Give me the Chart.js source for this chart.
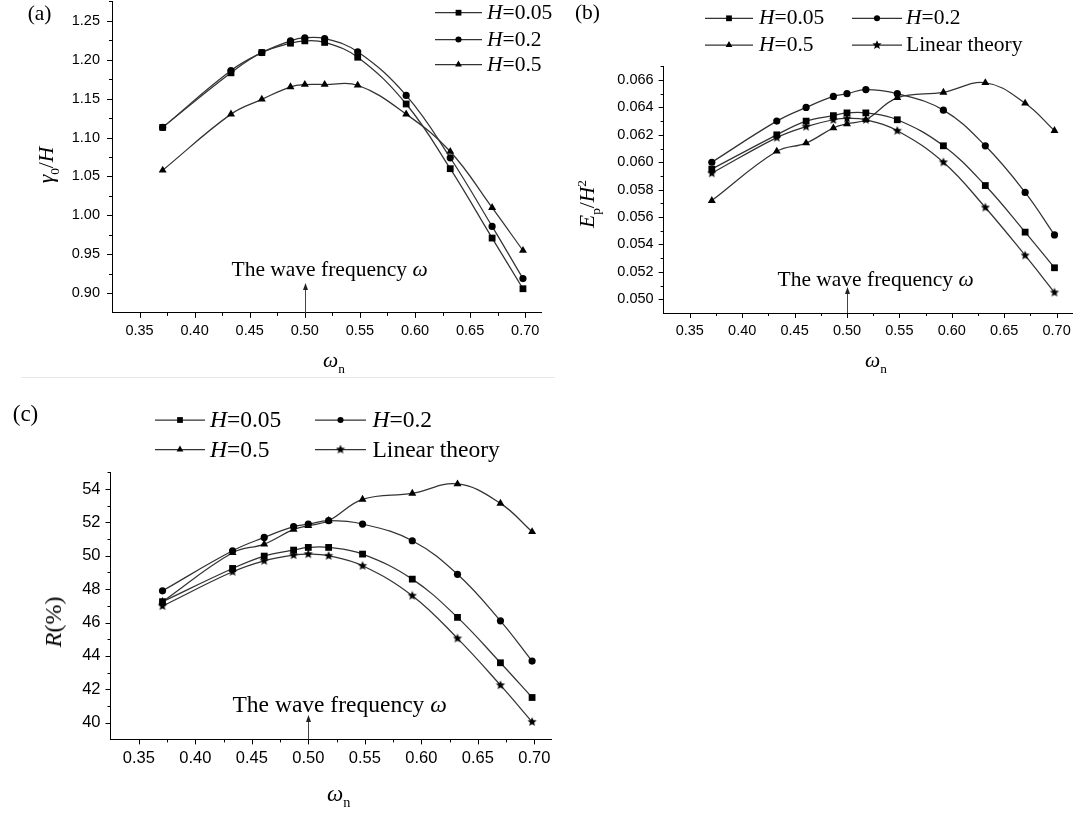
<!DOCTYPE html>
<html>
<head>
<meta charset="utf-8">
<script src="https://cdn.jsdelivr.net/npm/chart.js@4.4.1/dist/chart.umd.min.js"></script>
<style>
  html, body { margin: 0; padding: 0; background: #fff; }
  #page { position: relative; width: 1080px; height: 814px; overflow: hidden; background: #fff; }
  #page canvas { position: absolute; }
  .t { position: absolute; font-family: "Liberation Serif", "Times New Roman", serif; color: #000; line-height: 1; white-space: nowrap; }
  .t sub, .t sup { font-size: 0.62em; line-height: 0; position: relative; vertical-align: baseline; font-style: normal; }
  .t sub { top: 0.42em; }
  .t sup { top: -0.6em; }
  .ctr { transform: translate(-50%, -50%); }
  .rot { transform: translate(-50%, -50%) rotate(-90deg); }
  .mid { transform: translateY(-50%); }
  .sep { position: absolute; left: 21px; top: 377px; width: 534px; height: 1px; background: #e8e8e8; }
</style>
</head>
<body>
<div id="page">
  <canvas id="chartA"></canvas>
  <canvas id="chartB"></canvas>
  <canvas id="chartC"></canvas>
  <div class="sep"></div>

  <!-- panel letters -->
  <div class="t ctr" style="left:39.6px; top:14px; font-size:21.5px;">(a)</div>
  <div class="t ctr" style="left:587.5px; top:12.5px; font-size:21.5px;">(b)</div>
  <div class="t ctr" style="left:25.5px; top:413px; font-size:23px;">(c)</div>

  <!-- axis titles -->
  <div class="t rot" style="left:47px; top:165px; font-size:21.5px;"><i>γ</i><sub>0</sub>/<i>H</i></div>
  <div class="t mid" style="left:323px; top:361px; font-size:21.5px;"><i>ω</i><sub>n</sub></div>
  <div class="t rot" style="left:588px; top:204px; font-size:21.5px;"><i>E</i><sub>p</sub>/<i>H</i><sup>2</sup></div>
  <div class="t mid" style="left:865px; top:361px; font-size:21.5px;"><i>ω</i><sub>n</sub></div>
  <div class="t rot" style="left:53px; top:622px; font-size:24px;"><i>R</i>(%)</div>
  <div class="t mid" style="left:327px; top:793px; font-size:23px;"><i>ω</i><sub>n</sub></div>

  <!-- legends -->
  <div class="t mid" style="left:487px; top:12.7px; font-size:21.5px;"><i>H</i>=0.05</div>
  <div class="t mid" style="left:487px; top:39.5px; font-size:21.5px;"><i>H</i>=0.2</div>
  <div class="t mid" style="left:487px; top:64.5px; font-size:21.5px;"><i>H</i>=0.5</div>

  <div class="t mid" style="left:759px; top:18.3px; font-size:21.5px;"><i>H</i>=0.05</div>
  <div class="t mid" style="left:906px; top:18.3px; font-size:21.5px;"><i>H</i>=0.2</div>
  <div class="t mid" style="left:759px; top:45px; font-size:21.5px;"><i>H</i>=0.5</div>
  <div class="t mid" style="left:906px; top:45px; font-size:21.5px;">Linear theory</div>

  <div class="t mid" style="left:210px; top:420px; font-size:23.5px;"><i>H</i>=0.05</div>
  <div class="t mid" style="left:372.5px; top:420px; font-size:23.5px;"><i>H</i>=0.2</div>
  <div class="t mid" style="left:210px; top:449.5px; font-size:23.5px;"><i>H</i>=0.5</div>
  <div class="t mid" style="left:372.5px; top:449.5px; font-size:23.5px;">Linear theory</div>

  <!-- wave frequency notes -->
  <div class="t" style="left:231.5px; top:259px; font-size:21.5px;">The wave frequency <i>ω</i></div>
  <div class="t" style="left:777.5px; top:269px; font-size:21.5px;">The wave frequency <i>ω</i></div>
  <div class="t" style="left:232.5px; top:693px; font-size:23.5px;">The wave frequency <i>ω</i></div>
</div>

<script>
// natural frequency ratio, shared by the three panels
const omegaN = [0.371, 0.433, 0.461, 0.487, 0.500, 0.518, 0.548, 0.592, 0.632, 0.670, 0.698];
const waveFreq = 0.5;
const seriesNames = ['H=0.05', 'H=0.2', 'H=0.5', 'Linear theory'];

// (a) gamma0 / H
const gammaH005 = [1.113, 1.183, 1.209, 1.221, 1.224, 1.222, 1.203, 1.143, 1.060, 0.971, 0.906];
const gammaH02  = [1.113, 1.186, 1.209, 1.224, 1.228, 1.227, 1.210, 1.154, 1.074, 0.986, 0.919];
const gammaH05  = [1.058, 1.130, 1.149, 1.165, 1.168, 1.168, 1.167, 1.130, 1.082, 1.010, 0.955];

// (b) Ep / H^2
const energyH005   = [0.0595, 0.0620, 0.0630, 0.0634, 0.0636, 0.0636, 0.0631, 0.0612, 0.0583, 0.0549, 0.0523];
const energyH02    = [0.0600, 0.0630, 0.0640, 0.0648, 0.0650, 0.0653, 0.0650, 0.0638, 0.0612, 0.0578, 0.0547];
const energyH05    = [0.0572, 0.0608, 0.0614, 0.0625, 0.0628, 0.0631, 0.0647, 0.0651, 0.0658, 0.0643, 0.0623];
const energyLinear = [0.0592, 0.0618, 0.0626, 0.0631, 0.0632, 0.0631, 0.0623, 0.0600, 0.0567, 0.0532, 0.0505];

// (c) R (%)
const reflH005   = [47.25, 49.24, 49.98, 50.34, 50.50, 50.50, 50.10, 48.60, 46.31, 43.59, 41.51];
const reflH02    = [47.90, 50.30, 51.10, 51.74, 51.90, 52.10, 51.90, 50.90, 48.89, 46.10, 43.69];
const reflH05    = [47.25, 50.18, 50.70, 51.58, 51.80, 52.10, 53.38, 53.74, 54.30, 53.14, 51.44];
const reflLinear = [46.99, 49.04, 49.70, 50.04, 50.10, 50.00, 49.40, 47.61, 45.05, 42.25, 40.05];

// labelled ticks
const omegaTicks  = [0.35, 0.40, 0.45, 0.50, 0.55, 0.60, 0.65, 0.70];
const gammaTicks  = [0.90, 0.95, 1.00, 1.05, 1.10, 1.15, 1.20, 1.25];
const energyTicks = [0.050, 0.052, 0.054, 0.056, 0.058, 0.060, 0.062, 0.064, 0.066];
const reflTicks   = [40, 42, 44, 46, 48, 50, 52, 54];

// small filled star for the linear theory curve
function starImage(r) {
  const c = document.createElement('canvas');
  const s = Math.ceil(r * 2) + 2;
  c.width = c.height = s;
  const g = c.getContext('2d');
  g.fillStyle = '#000';
  g.beginPath();
  for (let i = 0; i < 10; i++) {
    const rr = i % 2 === 0 ? r : r * 0.45;
    const a = -Math.PI / 2 + i * Math.PI / 5;
    const px = s / 2 + rr * Math.cos(a), py = s / 2 + rr * Math.sin(a);
    if (i === 0) g.moveTo(px, py); else g.lineTo(px, py);
  }
  g.closePath();
  g.fill();
  return c;
}

const markers = [
  { style: 'rect', radius: 4.8 },
  { style: 'circle', radius: 3.6 },
  { style: 'triangle', radius: 4.6 },
  { style: starImage(4.8), radius: 4.5 }
];

function series(i, values) {
  return {
    label: seriesNames[i],
    data: omegaN.map((x, k) => ({ x: x, y: values[k] })),
    borderColor: '#333',
    borderWidth: 1.25,
    backgroundColor: '#000',
    pointStyle: markers[i].style,
    pointRadius: markers[i].radius,
    pointBorderWidth: 0,
    pointBackgroundColor: '#000',
    tension: 0.4,
    fill: false,
    clip: false
  };
}

// linear axis with labelled majors and an unlabelled minor tick halfway between
function axis(majors, min, max, digits, fontSize, pad, boxSize, horizontal) {
  const step = majors[1] - majors[0];
  return {
    type: 'linear',
    min: min,
    max: max,
    border: { display: true, color: '#000', width: 1 },
    grid: { display: false, drawTicks: false },
    afterBuildTicks(sc) {
      const list = [{ value: +(majors[0] - step / 2).toFixed(6), minor: true }];
      majors.forEach(v => {
        list.push({ value: v, minor: false });
        list.push({ value: +(v + step / 2).toFixed(6), minor: true });
      });
      sc.ticks = list.filter(t => t.value > min + 1e-9 && t.value <= max + 1e-9);
    },
    afterFit(sc) {
      if (horizontal) sc.height = boxSize; else sc.width = boxSize;
    },
    ticks: {
      autoSkip: false,
      maxRotation: 0,
      padding: pad,
      color: '#000',
      font: { family: 'Liberation Sans', size: fontSize },
      callback: (v, i, ticks) => ticks[i].minor ? '' : v.toFixed(digits)
    }
  };
}

// outward tick marks, long for labelled ticks, short for minor ones
const tickMarks = {
  id: 'tickMarks',
  afterDraw(chart) {
    const ctx = chart.ctx;
    ctx.save();
    ctx.strokeStyle = '#000';
    ctx.lineWidth = 1;
    ['x', 'y'].forEach(id => {
      const sc = chart.scales[id];
      sc.ticks.forEach(t => {
        const len = t.minor ? 3 : 5;
        const p = Math.round(sc.getPixelForValue(t.value)) + 0.5;
        ctx.beginPath();
        if (id === 'x') {
          ctx.moveTo(p, sc.top);
          ctx.lineTo(p, sc.top + len);
        } else {
          ctx.moveTo(sc.right, p);
          ctx.lineTo(sc.right - len, p);
        }
        ctx.stroke();
      });
    });
    ctx.restore();
  }
};

// legend line samples with their marker, placed in page pixels
function legendSymbols(frame, items) {
  return {
    id: 'legendSymbols',
    afterDraw(chart) {
      const ctx = chart.ctx;
      ctx.save();
      items.forEach(it => {
        const x1 = it.x1 - frame.x, x2 = it.x2 - frame.x, y = it.y - frame.y;
        ctx.strokeStyle = '#333';
        ctx.lineWidth = 1.25;
        ctx.beginPath();
        ctx.moveTo(x1, y);
        ctx.lineTo(x2, y);
        ctx.stroke();
        ctx.fillStyle = '#000';
        Chart.helpers.drawPoint(ctx, {
          pointStyle: markers[it.m].style,
          radius: markers[it.m].radius * 0.85,
          rotation: 0,
          borderWidth: 0
        }, (x1 + x2) / 2, y);
      });
      ctx.restore();
    }
  };
}

// upward arrow from the axis at the wave frequency
function freqArrow(length) {
  return {
    id: 'freqArrow',
    afterDraw(chart) {
      const ctx = chart.ctx;
      const x = Math.round(chart.scales.x.getPixelForValue(waveFreq)) + 0.5;
      const y0 = chart.chartArea.bottom;
      const y1 = y0 - length;
      ctx.save();
      ctx.strokeStyle = '#444';
      ctx.fillStyle = '#222';
      ctx.lineWidth = 1;
      ctx.beginPath();
      ctx.moveTo(x, y0);
      ctx.lineTo(x, y1 + 5);
      ctx.stroke();
      ctx.beginPath();
      ctx.moveTo(x, y1);
      ctx.lineTo(x - 2.5, y1 + 7);
      ctx.lineTo(x + 2.5, y1 + 7);
      ctx.closePath();
      ctx.fill();
      ctx.restore();
    }
  };
}

function panel(id, frame, plot, cfg) {
  const cv = document.getElementById(id);
  cv.width = frame.w;
  cv.height = frame.h;
  cv.style.left = frame.x + 'px';
  cv.style.top = frame.y + 'px';
  return new Chart(cv, {
    type: 'line',
    data: { datasets: cfg.series.map(s => series(s[0], s[1])) },
    options: {
      responsive: false,
      animation: false,
      events: [],
      layout: {
        padding: { left: 0, bottom: 0, top: plot.t - frame.y, right: frame.x + frame.w - plot.r }
      },
      plugins: { legend: { display: false }, tooltip: { enabled: false } },
      scales: {
        x: axis(omegaTicks, 0.325, 0.715, 2, cfg.font, cfg.xPad, frame.y + frame.h - plot.b, true),
        y: axis(cfg.yTicks, cfg.yMin, cfg.yMax, cfg.yDigits, cfg.font, cfg.yPad, plot.l - frame.x, false)
      }
    },
    plugins: [tickMarks, legendSymbols(frame, cfg.legend), freqArrow(cfg.arrow)]
  });
}

// (a)
const frameA = { x: 0, y: -30, w: 580, h: 400 };
panel('chartA', frameA, { l: 112, t: 1.1, r: 541.7, b: 312.9 }, {
  series: [[0, gammaH005], [1, gammaH02], [2, gammaH05]],
  yTicks: gammaTicks, yMin: 0.875, yMax: 1.275, yDigits: 2,
  font: 14.5, xPad: 9, yPad: 12, arrow: 30,
  legend: [
    { x1: 435, x2: 482, y: 12.7, m: 0 },
    { x1: 435, x2: 482, y: 39.5, m: 1 },
    { x1: 435, x2: 482, y: 64.5, m: 2 }
  ]
});

// (b)
const frameB = { x: 560, y: -30, w: 540, h: 400 };
panel('chartB', frameB, { l: 663.6, t: 66.3, r: 1072.3, b: 313 }, {
  series: [[0, energyH005], [1, energyH02], [2, energyH05], [3, energyLinear]],
  yTicks: energyTicks, yMin: 0.049, yMax: 0.067, yDigits: 3,
  font: 14.5, xPad: 9, yPad: 10, arrow: 26,
  legend: [
    { x1: 705, x2: 753, y: 18.3, m: 0 },
    { x1: 852, x2: 902, y: 18.3, m: 1 },
    { x1: 705, x2: 753, y: 45, m: 2 },
    { x1: 852, x2: 902, y: 45, m: 3 }
  ]
});

// (c)
const frameC = { x: 0, y: 400, w: 600, h: 414 };
panel('chartC', frameC, { l: 110.5, t: 472.3, r: 551.3, b: 739.4 }, {
  series: [[0, reflH005], [1, reflH02], [2, reflH05], [3, reflLinear]],
  yTicks: reflTicks, yMin: 39, yMax: 55, yDigits: 0,
  font: 16.5, xPad: 9, yPad: 10, arrow: 24.5,
  legend: [
    { x1: 155, x2: 205, y: 420, m: 0 },
    { x1: 315, x2: 366, y: 420, m: 1 },
    { x1: 155, x2: 205, y: 449.5, m: 2 },
    { x1: 315, x2: 366, y: 449.5, m: 3 }
  ]
});
</script>
</body>
</html>
